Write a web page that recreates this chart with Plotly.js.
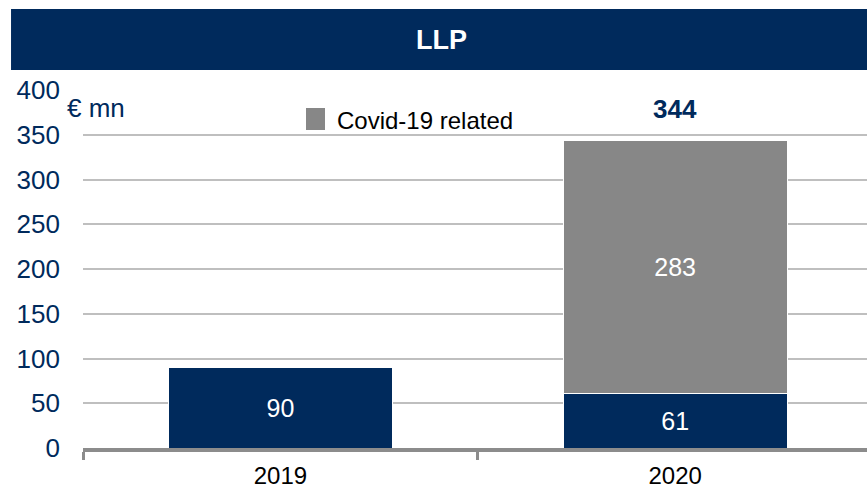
<!DOCTYPE html>
<html>
<head>
<meta charset="utf-8">
<script src="https://cdn.plot.ly/plotly-3.0.1.min.js"></script>
<style>html,body{margin:0;padding:0;background:#fff;}#chart{width:867px;height:491px;}</style>
</head>
<body>
<div id="chart"></div>
<script>
const categories = ["2019", "2020"];
const baseValues = [90, 61];
const covidValues = [null, 283];
const totals = [null, 344];
const chartTitle = "LLP";
const unitLabel = "€ mn";
const covidName = "Covid-19 related";

const NAVY = "#002A5C";
const GREY = "#878787";
const FONT = "Liberation Sans, Arial, sans-serif";

const traces = [
  {
    type: "bar", x: categories, y: baseValues, name: "Base",
    marker: {color: NAVY, line: {color: "#ffffff", width: 1}},
    width: 0.567, showlegend: false,
    text: baseValues.map(v => v == null ? "" : String(v)),
    textposition: "inside", insidetextanchor: "middle",
    textfont: {color: "#ffffff", size: 25, family: FONT},
    hoverinfo: "skip"
  },
  {
    type: "bar", x: categories, y: covidValues, name: covidName,
    marker: {color: GREY, line: {color: "#ffffff", width: 1}},
    width: 0.567, showlegend: false,
    text: covidValues.map(v => v == null ? "" : String(v)),
    textposition: "inside", insidetextanchor: "middle",
    textfont: {color: "#ffffff", size: 25, family: FONT},
    hoverinfo: "skip"
  }
];

const annotations = [
  {xref: "paper", yref: "paper", x: 0.4573, y: 1.1397, text: "<b>" + chartTitle + "</b>",
   showarrow: false, font: {color: "#ffffff", size: 27, family: FONT}, xanchor: "center", yanchor: "middle"},
  {xref: "paper", yref: "paper", x: -0.023, y: 0.9497, text: unitLabel,
   showarrow: false, font: {color: NAVY, size: 26, family: FONT}, xanchor: "left", yanchor: "middle"},
  // legend label
  {xref: "paper", yref: "paper", x: 0.3214, y: 0.9162, text: covidName,
   showarrow: false, font: {color: "#000000", size: 24, family: FONT}, xanchor: "left", yanchor: "middle"}
];
categories.forEach((c, i) => {
  if (totals[i] != null) {
    annotations.push({x: i, y: totals[i], xref: "x", yref: "y", text: "<b>" + totals[i] + "</b>",
      showarrow: false, xanchor: "center", yanchor: "bottom", yshift: 14,
      font: {color: NAVY, size: 26, family: FONT}});
  }
});

const layout = {
  width: 867, height: 491,
  margin: {l: 83, r: 0, t: 90, b: 43, pad: 0},
  paper_bgcolor: "#ffffff", plot_bgcolor: "#ffffff",
  barmode: "stack",
  font: {family: FONT},
  showlegend: false,
  xaxis: {
    type: "category", range: [-0.5, 1.486], fixedrange: true,
    showline: true, linecolor: "#8C8C8C", linewidth: 4,
    ticks: "outside", tickson: "boundaries", ticklen: 8, tickwidth: 3, tickcolor: "#8C8C8C",
    ticklabelstandoff: 3,
    tickfont: {color: "#000000", size: 24, family: FONT},
    showgrid: false, zeroline: false
  },
  yaxis: {
    range: [0, 400], dtick: 50, fixedrange: true,
    showline: false, zeroline: false,
    gridcolor: "#BFBFBF", gridwidth: 2,
    ticks: "", ticklabelstandoff: 22,
    tickfont: {color: NAVY, size: 26, family: FONT}
  },
  shapes: [
    {type: "rect", xref: "paper", yref: "paper", x0: -0.0918, x1: 1.0, y0: 1.0559, y1: 1.2263,
     fillcolor: NAVY, line: {width: 0}, layer: "above"},
    // legend key
    {type: "rect", xref: "paper", yref: "paper", x0: 0.2844, x1: 0.3087, y0: 0.8883, y1: 0.9497,
     fillcolor: GREY, line: {width: 0}, layer: "above"}
  ],
  annotations: annotations
};

Plotly.newPlot("chart", traces, layout, {displayModeBar: false, staticPlot: true});
</script>
</body>
</html>
